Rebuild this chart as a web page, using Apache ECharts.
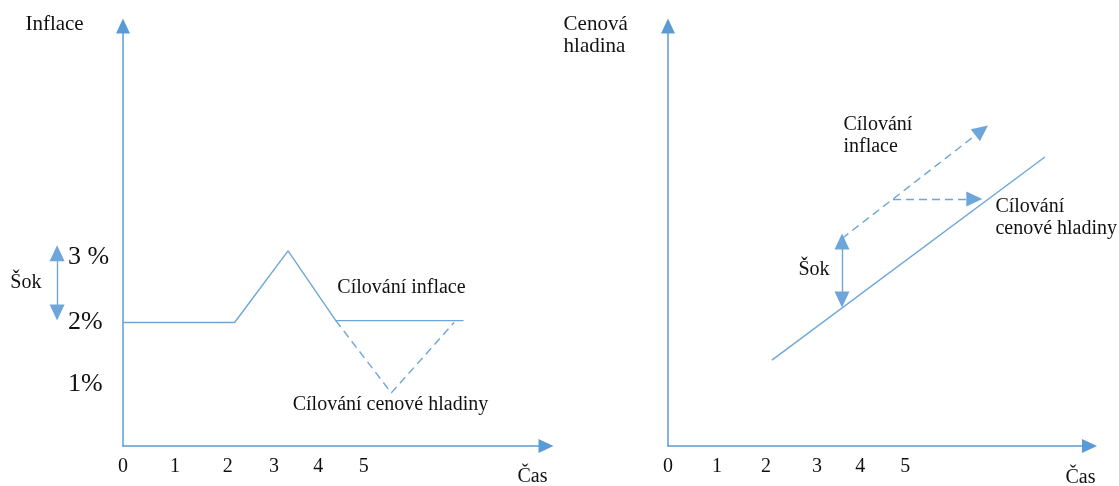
<!DOCTYPE html>
<html>
<head>
<meta charset="utf-8">
<script src="https://cdn.jsdelivr.net/npm/echarts@6/dist/echarts.min.js"></script>
<style>
  html, body { margin: 0; padding: 0; background: #fff; }
  #chart { width: 1119px; height: 486px; }
</style>
</head>
<body>
<div id="chart"></div>
<script>
// popisky os
const tickLabels = ["0", "1", "2", "3", "4", "5"];
const leftTickPos = [0, 1, 2.02, 2.91, 3.76, 4.64];
const rightTickPos = [0, 1, 2, 3.04, 3.92, 4.84];
const pctPos = [1, 2, 3.05];
const pctLabels = ["1%", "2%", "3 %"];

// levý graf – inflace
const inflaceLine = [[0, 2], [2.15, 2], [3.18, 3.16], [4.1, 2.03], [6.56, 2.03]];
const hladinaDashed = [[4.1, 2.03], [5.17, 0.86], [6.38, 2.0]];
const sokLeft = [[-1.27, 3.12], [-1.27, 2.16]];
const leftTexts = [
  ["Inflace", -1.89, 6.83, 21],
  ["Šok", -2.18, 2.64, 20],
  ["Čas", 7.59, -0.49, 20],
  ["Cílování inflace", 4.12, 2.57, 20],
  ["Cílování cenové hladiny", 3.26, 0.66, 20],
];

// pravý graf – cenová hladina
const cenovaLine = [[2.12, 1.39], [7.69, 4.68]];
const sokRight = [[3.55, 3.31], [3.55, 2.37]];
const inflaceArrow = [[3.55, 3.36], [6.4, 5.11]];
const hladinaArrow = [[4.59, 4.0], [6.25, 4.0]];
const rightTexts = [
  ["Cenová\nhladina", -2.14, 6.64, 21],
  ["Cílování\ninflace", 3.57, 5.02, 20],
  ["Šok", 2.65, 2.85, 20],
  ["Cílování\ncenové hladiny", 6.67, 3.69, 20],
  ["Čas", 8.1, -0.52, 20],
];

const blue = "#5b9bd5";
const lineBlue = "#6ea6da";
const font = "Liberation Serif";
const txt = "#111";

let myChart = echarts.init(document.getElementById("chart"));

function axisX(idx, max, ticks) {
  return {
    type: "value",
    gridIndex: idx,
    min: 0,
    max: max,
    splitLine: { show: false },
    axisTick: { show: false },
    axisLine: {
      symbol: ["none", "triangle"],
      symbolSize: [14, 15],
      lineStyle: { color: blue, width: 1.5 },
    },
    axisLabel: {
      customValues: ticks,
      margin: 11,
      color: txt,
      fontFamily: font,
      fontSize: 20,
      formatter: (v) => tickLabels[ticks.indexOf(v)],
    },
  };
}

function axisY(idx, showLabels) {
  return {
    type: "value",
    gridIndex: idx,
    min: 0,
    max: 6.8,
    splitLine: { show: false },
    axisTick: { show: false },
    axisLine: {
      symbol: ["none", "triangle"],
      symbolSize: [14, 15],
      lineStyle: { color: blue, width: 1.5 },
    },
    axisLabel: showLabels
      ? {
          customValues: pctPos,
          align: "left",
          margin: 55,
          color: txt,
          fontFamily: font,
          fontSize: 26,
          formatter: (v) => pctLabels[pctPos.indexOf(v)],
        }
      : { show: false },
  };
}

function textSeries(idx, list) {
  return {
    type: "scatter",
    xAxisIndex: idx,
    yAxisIndex: idx,
    clip: false,
    silent: true,
    symbolSize: 1,
    itemStyle: { color: "rgba(0,0,0,0)", opacity: 1 },
    label: {
      show: true,
      position: "right",
      distance: 0,
      color: txt,
      fontFamily: font,
      lineHeight: 22,
      align: "left",
      formatter: (p) => p.value[2],
    },
    data: list.map((t) => ({
      value: [t[1], t[2], t[0]],
      label: { fontSize: t[3] },
    })),
  };
}

function arrowLine(a, b, dashed, bothEnds) {
  return [
    { coord: a, symbol: bothEnds ? "triangle" : "none" },
    {
      coord: b,
      symbol: "triangle",
      lineStyle: { type: dashed ? [8, 5] : "solid" },
    },
  ];
}

const markStyle = {
  silent: true,
  symbolSize: [15, 16],
  label: { show: false },
  lineStyle: { color: lineBlue, width: 1.4 },
  itemStyle: { color: blue },
};

const option = {
  animation: false,
  grid: [
    { left: 123, top: 26, width: 423, bottom: 40 },
    { left: 668, top: 26, width: 421.5, bottom: 40 },
    // pomocná oblast vlevo od osy pro šipku šoku
    { left: 0, top: 26, width: 123, bottom: 40 },
  ],
  xAxis: [
    axisX(0, 8.15, leftTickPos),
    axisX(1, 8.6, rightTickPos),
    { type: "value", gridIndex: 2, min: -2.37, max: 0, show: false },
  ],
  yAxis: [
    axisY(0, true),
    axisY(1, false),
    { type: "value", gridIndex: 2, min: 0, max: 6.8, show: false },
  ],
  series: [
    {
      type: "line",
      xAxisIndex: 0,
      yAxisIndex: 0,
      silent: true,
      showSymbol: false,
      lineStyle: { color: lineBlue, width: 1.4 },
      data: inflaceLine,
    },
    {
      type: "line",
      xAxisIndex: 0,
      yAxisIndex: 0,
      silent: true,
      showSymbol: false,
      lineStyle: { color: lineBlue, width: 1.4, type: [8, 5] },
      data: hladinaDashed,
    },
    {
      type: "line",
      xAxisIndex: 2,
      yAxisIndex: 2,
      silent: true,
      showSymbol: false,
      lineStyle: { width: 0 },
      data: [],
      markLine: Object.assign({}, markStyle, {
        data: [arrowLine(sokLeft[0], sokLeft[1], false, true)],
      }),
    },
    {
      type: "line",
      xAxisIndex: 1,
      yAxisIndex: 1,
      silent: true,
      showSymbol: false,
      lineStyle: { color: lineBlue, width: 1.4 },
      data: cenovaLine,
      markLine: Object.assign({}, markStyle, {
        data: [
          arrowLine(sokRight[0], sokRight[1], false, true),
          arrowLine(inflaceArrow[0], inflaceArrow[1], true, false),
          arrowLine(hladinaArrow[0], hladinaArrow[1], true, false),
        ],
      }),
    },
    textSeries(0, leftTexts),
    textSeries(1, rightTexts),
  ],
};

myChart.setOption(option);
</script>
</body>
</html>
